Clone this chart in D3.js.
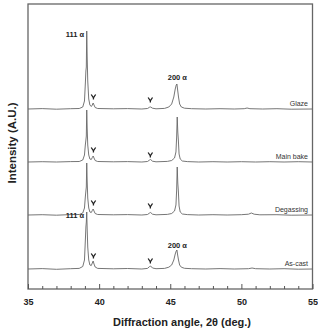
<!DOCTYPE html>
<html><head><meta charset="utf-8">
<script src="https://cdn.jsdelivr.net/npm/d3@7"></script>
<style>body{margin:0;background:#fff}svg{display:block}text{font-family:"Liberation Sans",Arial,sans-serif}</style>
</head><body><svg id="c" width="318" height="329"></svg>
<script>
// ---- data ----
const seriesNames = ["As-cast","Degassing","Main bake","Glaze"];
const seriesOffsets = [0, 54, 107, 160];
const xTicks = [35,40,45,50,55];

const asCast = [[35,0],[36,0.4],[37,-0.3],[38,0.3],[38.6,0.6],[38.85,2.5],[38.97,9],[39.03,28],[39.07,42],[39.1,47],[39.13,57],[39.16,40],[39.2,22],[39.27,9],[39.35,4],[39.45,3.5],[39.52,6],[39.58,8],[39.64,5],[39.72,2],[39.9,0.6],[41,0.2],[42,0.5],[43,0],[43.4,0.6],[43.55,2.5],[43.62,3],[43.75,1],[44,0.3],[44.6,0.6],[44.9,1.8],[45.1,4],[45.25,9],[45.35,15],[45.42,18],[45.47,19],[45.52,14],[45.58,9],[45.66,4],[45.78,1.8],[46,0.7],[46.5,0.3],[47.5,0],[48.5,0.4],[49.5,0],[50.5,0.3],[50.75,1],[51,0.3],[52,0],[53,0.3],[54,-0.2],[55,0]];
const degassing = [[35,0],[36,0.3],[37,-0.2],[38,0.4],[38.6,0.5],[38.85,2],[38.97,7],[39.03,18],[39.07,24],[39.1,28],[39.13,52],[39.16,34],[39.2,17],[39.27,7],[39.35,3],[39.45,2.5],[39.52,4.5],[39.58,6],[39.64,4],[39.72,1.5],[39.9,0.5],[41,0.2],[42,0.4],[43,0],[43.4,0.5],[43.55,2],[43.62,2.5],[43.75,0.8],[44,0.2],[44.8,0.6],[45.1,1.5],[45.3,4],[45.4,10],[45.45,25],[45.49,48],[45.53,32],[45.57,24],[45.62,9],[45.7,3],[45.85,1],[46.2,0.4],[47,0],[48,0.3],[49,0],[50,0.3],[50.5,0.8],[50.7,2],[50.9,0.8],[51.3,0.2],[52.5,0.3],[53.5,-0.2],[55,0]];
const mainBake = [[35,0],[36,0.3],[37,0],[38,0.4],[38.6,0.5],[38.85,2],[38.97,7],[39.03,17],[39.07,22],[39.1,26],[39.13,52],[39.16,34],[39.2,17],[39.27,7],[39.35,3],[39.45,2.5],[39.52,4.5],[39.58,6],[39.64,4],[39.72,1.5],[39.9,0.5],[41,0.2],[42,0.4],[43,0],[43.4,0.5],[43.55,2],[43.62,2.5],[43.75,0.8],[44,0.2],[44.8,0.6],[45.1,1.5],[45.3,4],[45.4,10],[45.45,25],[45.49,45],[45.53,30],[45.57,22],[45.62,8],[45.7,3],[45.85,1],[46.2,0.4],[47,0],[48,0.3],[49,0],[50,0.3],[51,0],[52,0.3],[53,0],[54,0.3],[55,0]];
const glaze = [[35,0],[36,0.4],[37,-0.2],[38,0.3],[38.6,0.5],[38.85,2],[38.97,8],[39.03,25],[39.07,38],[39.1,42],[39.13,78],[39.16,52],[39.2,28],[39.27,10],[39.35,4],[39.45,2.5],[39.52,4],[39.58,6],[39.64,4],[39.72,1.5],[39.9,0.5],[41,0.2],[42,0.4],[43,0],[43.4,0.5],[43.55,1.8],[43.62,2],[43.75,0.8],[44,0.2],[44.6,0.6],[44.9,2],[45.1,5],[45.25,12],[45.35,20],[45.42,24],[45.47,25],[45.52,19],[45.58,12],[45.66,5],[45.78,2],[46,0.8],[46.5,0.3],[47.5,0],[48.5,0.3],[49.5,0],[50.2,0.3],[50.4,1],[50.6,0.3],[51.5,0],[52.5,0.3],[53.5,-0.2],[55,0]];
const seriesData = [asCast, degassing, mainBake, glaze];

// marker positions (angle, height above baseline) per series
const markerAngles = [39.6, 43.6];
const markerHeights = [[13,8],[12,9],[12,7],[12,9]];
// peak labels: [text, angle, height above baseline, series index]
const peakLabels = [["111 α",38.3,72,3],["200 α",45.5,29,3],["111 α",38.3,51,0],["200 α",45.5,21,0]];

// ---- drawing ----
const svg = d3.select("#c");
const L=28, R=312.5, T=4, B=289;
const x = d3.scaleLinear().domain([35,55]).range([L,R]);
const y = d3.scaleLinear().domain([-20,265]).range([B,T]);
const ink = "#555";

const line = d3.line().x(d=>x(d[0])).y(d=>y(d[1]));
seriesData.forEach((s,i)=>{
  const off = seriesOffsets[i];
  svg.append("path").datum(s.map(d=>[d[0],d[1]+off]))
    .attr("d",line).attr("fill","none").attr("stroke","#666").attr("stroke-width",0.9);
  svg.append("text").attr("x",308).attr("y",y(off)-3).attr("text-anchor","end")
    .attr("font-size",7).attr("fill","#333").text(seriesNames[i]);
  markerAngles.forEach((a,j)=>{
    const px=x(a), py=y(off+markerHeights[i][j]);
    svg.append("path").attr("d",`M${px-2.2},${py-2.5}L${px},${py+0.8}L${px+2.2},${py-2.5}M${px},${py+0.8}L${px},${py+2.5}`)
      .attr("fill","none").attr("stroke","#222").attr("stroke-width",1.3);
  });
});
peakLabels.forEach(p=>{
  svg.append("text").attr("x",x(p[1])).attr("y",y(seriesOffsets[p[3]]+p[2])).attr("text-anchor","middle")
    .attr("font-size",7.5).attr("font-weight","bold").attr("fill","#222").text(p[0]);
});

svg.append("rect").attr("x",L).attr("y",T).attr("width",R-L).attr("height",B-T)
  .attr("fill","none").attr("stroke","#666").attr("stroke-width",1.3);

const major = svg.append("g").attr("transform",`translate(0,${B})`)
  .call(d3.axisBottom(x).tickValues(xTicks).tickSize(-5).tickPadding(10).tickFormat(d3.format("d")));
major.select(".domain").remove();
major.selectAll("line").attr("stroke",ink);
major.selectAll("text").attr("font-size",9).attr("font-weight","bold").attr("fill","#222")
  .style("font-family","'Liberation Sans',Arial,sans-serif");
const minorVals = d3.range(36,55).filter(v=>v%5!==0);
const minor = svg.append("g").attr("transform",`translate(0,${B})`)
  .call(d3.axisBottom(x).tickValues(minorVals).tickSize(-3).tickFormat(""));
minor.select(".domain").remove();
minor.selectAll("line").attr("stroke",ink);

svg.append("text").attr("x",182).attr("y",326).attr("text-anchor","middle")
  .attr("font-size",11).attr("font-weight","bold").attr("fill","#222").text("Diffraction angle, 2θ (deg.)");
svg.append("text").attr("transform","translate(16,143) rotate(-90)").attr("text-anchor","middle")
  .attr("font-size",11.5).attr("font-weight","bold").attr("fill","#222").text("Intensity (A.U.)");
</script></body></html>
